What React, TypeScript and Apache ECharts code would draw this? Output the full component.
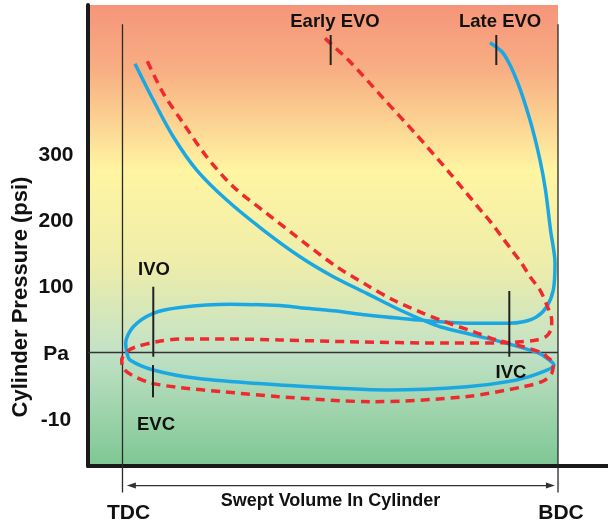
import React, { useEffect, useRef } from 'react';
import * as echarts from 'echarts';

// Axis extents (x: % of swept volume, TDC = 0, BDC = 100; y: schematic pressure units)
const X_MIN = -7.92;
const X_MAX = 100;
const X_EDGE = 111.6;
const Y_MIN = -171;
const Y_MAX = 523;

const yTickValues = [-100, 0, 100, 200, 300];
const yTickLabels = ['-10', 'Pa', '100', '200', '300'];
const xTickValues = [0, 100];
const xTickLabels = ['TDC', 'BDC'];
const xAxisTitle = 'Swept Volume In Cylinder';
const yAxisTitle = 'Cylinder Pressure (psi)';

// Blue (late EVO) loop: blowdown -> exhaust stroke -> intake stroke -> compression
const blueX = [84.39, 87.44, 90.52, 93.57, 95.87, 97.13, 98.28, 99.31, 98.92, 97.41, 95.11, 92.03, 88.22, 80.55, 72.9, 63.72, 56.07, 48.4, 40.76, 36.17, 24.68, 13.2, 7.07, 2.48, 0.73, 1.03, 1.72, 7.07, 17.04, 36.17, 60.9, 79.04, 90.52, 96.62, 99.08, 97.7, 95.18, 88.22, 80.55, 72.9, 69.85, 63.72, 56.07, 48.4, 40.76, 32.33, 23.93, 17.04, 11.66, 7.07, 2.87];
const blueY = [466.2, 450.2, 410.0, 349.8, 289.6, 244.5, 184.3, 134.2, 93.9, 68.7, 53.7, 46.2, 43.8, 43.8, 46.2, 51.3, 56.3, 62.8, 67.3, 70.6, 72.4, 67.6, 58.9, 38.7, 13.7, -0.9, -11.4, -26.5, -39.0, -49.1, -56.6, -51.6, -41.4, -29.1, -19.0, -9.9, 0.0, 13.7, 26.2, 38.7, 46.2, 63.8, 88.9, 113.9, 144.0, 184.2, 229.4, 274.5, 324.7, 379.9, 434.7];

// Red dashed (early EVO) loop
const redX = [46.5, 52.24, 59.89, 67.55, 75.2, 82.85, 84.78, 87.07, 89.37, 91.66, 93.57, 95.87, 97.41, 98.55, 98.55, 97.41, 95.11, 91.27, 88.22, 74.44, 52.01, 36.17, 24.68, 13.2, 7.85, 3.26, 1.33, -0.18, 0.18, 2.11, 6.31, 13.2, 23.15, 35.41, 57.34, 78.71, 92.08, 96.62, 98.55, 98.92, 97.41, 96.62, 92.03, 85.92, 80.55, 72.9, 69.07, 62.18, 56.07, 49.18, 42.3, 33.11, 25.44, 19.33, 13.96, 9.37, 5.56];
const redY = [472.8, 437.6, 382.5, 327.3, 269.6, 209.4, 194.3, 174.2, 154.1, 134.1, 114.0, 93.9, 71.4, 48.8, 38.7, 24.7, 18.7, 16.1, 14.6, 14.0, 16.1, 18.7, 20.2, 20.2, 16.1, 8.6, 2.6, -11.4, -23.9, -34.0, -45.6, -53.1, -59.2, -66.4, -74.2, -66.7, -51.6, -43.1, -31.5, -16.4, -6.5, -1.4, 8.6, 18.7, 31.2, 48.8, 58.9, 78.9, 101.5, 129.0, 162.4, 209.4, 249.4, 294.6, 344.9, 390.0, 440.2];

// Valve event markers
const eventNames = ['Early EVO', 'Late EVO', 'IVO', 'EVC', 'IVC'];
const eventX = [47.8, 85.83, 7.07, 7.0, 88.82];
const eventYTop = [477.8, 477.8, 98.9, -19.0, 92.4];
const eventYBottom = [432.6, 432.6, -6.5, -67.6, -6.5];
const eventLabelX = [48.8, 86.7, 7.23, 7.7, 89.2];
const eventLabelY = [500.4, 500.4, 126.6, -106.3, -28.0];

// Guides
const guideX = [0, 100];
const GUIDE_TOP = 494;
const GUIDE_BOTTOM = -211;
const PA_VALUE = 0;
const ARROW_Y = -200.4;
const ARROW_X0 = 1.0;
const ARROW_X1 = 99.3;
const X_TITLE_X = 47.76;
const X_TITLE_Y = -222.2;

const FONT = '"Liberation Sans", Arial, Helvetica, sans-serif';

export default function App() {
  const ref = useRef<HTMLDivElement>(null);

  useEffect(() => {
    if (!ref.current) return;
    const chart = echarts.init(ref.current, null, { renderer: 'svg' });

    const guideSeries = {
      type: 'custom',
      coordinateSystem: 'cartesian2d',
      clip: false,
      silent: true,
      z: 1,
      data: [[0, 0]],
      renderItem: (params: any, api: any) => {
        const children: any[] = [];
        guideX.forEach((gx) => {
          const a = api.coord([gx, GUIDE_TOP]);
          const b = api.coord([gx, GUIDE_BOTTOM]);
          children.push({ type: 'line', shape: { x1: a[0], y1: a[1], x2: b[0], y2: b[1] }, style: { stroke: '#2a2a2a', lineWidth: 1.3 } });
        });
        const p0 = api.coord([X_MIN, PA_VALUE]);
        const p1 = api.coord([X_MAX, PA_VALUE]);
        children.push({ type: 'line', shape: { x1: p0[0], y1: p0[1], x2: p1[0], y2: p1[1] }, style: { stroke: '#333', lineWidth: 1.5 } });
        const e0 = api.coord([X_MAX, Y_MIN]);
        const e1 = api.coord([X_EDGE, Y_MIN]);
        children.push({ type: 'line', shape: { x1: e0[0], y1: e0[1], x2: e1[0], y2: e1[1] }, style: { stroke: '#1a1a1a', lineWidth: 4 } });
        const a0 = api.coord([ARROW_X0, ARROW_Y]);
        const a1 = api.coord([ARROW_X1, ARROW_Y]);
        children.push({ type: 'line', shape: { x1: a0[0] + 4, y1: a0[1], x2: a1[0] - 4, y2: a1[1] }, style: { stroke: '#333', lineWidth: 1.3 } });
        children.push({ type: 'polygon', shape: { points: [[a0[0], a0[1]], [a0[0] + 9, a0[1] - 3], [a0[0] + 9, a0[1] + 3]] }, style: { fill: '#333' } });
        children.push({ type: 'polygon', shape: { points: [[a1[0], a1[1]], [a1[0] - 9, a1[1] - 3], [a1[0] - 9, a1[1] + 3]] }, style: { fill: '#333' } });
        const t = api.coord([X_TITLE_X, X_TITLE_Y]);
        children.push({
          type: 'text',
          x: t[0],
          y: t[1],
          style: { text: xAxisTitle, fill: '#111', fontSize: 18, fontWeight: 'bold', fontFamily: FONT, align: 'center', verticalAlign: 'middle' },
        });
        return { type: 'group', children };
      },
    };

    const eventSeries = {
      type: 'custom',
      coordinateSystem: 'cartesian2d',
      clip: false,
      silent: true,
      z: 5,
      data: eventNames.map((_, i) => [eventX[i], eventYTop[i], eventYBottom[i], eventLabelX[i], eventLabelY[i]]),
      renderItem: (params: any, api: any) => {
        const i = params.dataIndex;
        const p1 = api.coord([api.value(0), api.value(1)]);
        const p2 = api.coord([api.value(0), api.value(2)]);
        const pl = api.coord([api.value(3), api.value(4)]);
        return {
          type: 'group',
          children: [
            { type: 'line', shape: { x1: p1[0], y1: p1[1], x2: p2[0], y2: p2[1] }, style: { stroke: '#222', lineWidth: 2 } },
            {
              type: 'text',
              x: pl[0],
              y: pl[1],
              style: { text: eventNames[i], fill: '#111', fontSize: 18.5, fontWeight: 'bold', fontFamily: FONT, align: 'center', verticalAlign: 'middle' },
            },
          ],
        };
      },
    };

    const option: any = {
      animation: false,
      grid: {
        left: 88,
        right: 50,
        top: 5,
        bottom: 58,
        show: true,
        borderWidth: 0,
        outerBoundsMode: 'none',
        backgroundColor: new echarts.graphic.LinearGradient(0, 0, 0, 1, [
          { offset: 0, color: '#F5957A' },
          { offset: 0.14, color: '#F8AE82' },
          { offset: 0.36, color: '#FFF5A2' },
          { offset: 0.56, color: '#EEEDAA' },
          { offset: 0.75, color: '#C3E2C6' },
          { offset: 1, color: '#7EC794' },
        ]),
      },
      xAxis: {
        type: 'value',
        min: X_MIN,
        max: X_MAX,
        splitLine: { show: false },
        axisTick: { show: false },
        axisLine: { show: true, onZero: false, lineStyle: { color: '#1a1a1a', width: 4 } },
        axisLabel: {
          customValues: xTickValues,
          margin: 35,
          formatter: (v: number) => {
            const lbl = xTickLabels[xTickValues.indexOf(v)];
            return v === 0 ? '{t|' + lbl + '}' : '{b|' + lbl + '}';
          },
          rich: {
            t: { fontSize: 21, fontWeight: 'bold', fontFamily: FONT, color: '#111', padding: [0, 0, 0, 12] },
            b: { fontSize: 21, fontWeight: 'bold', fontFamily: FONT, color: '#111', padding: [0, 0, 0, 6] },
          },
        },
      },
      yAxis: {
        type: 'value',
        min: Y_MIN,
        max: Y_MAX,
        splitLine: { show: false },
        axisTick: { show: false },
        axisLine: { show: true, onZero: false, lineStyle: { color: '#1a1a1a', width: 4 } },
        axisLabel: {
          customValues: yTickValues,
          margin: 32,
          align: 'center',
          verticalAlign: 'middle',
          fontSize: 21,
          fontWeight: 'bold',
          fontFamily: FONT,
          color: '#111',
          formatter: (v: number) => yTickLabels[yTickValues.indexOf(v)],
        },
      },
      graphic: [
        {
          type: 'text',
          x: 19,
          y: 297,
          rotation: Math.PI / 2,
          style: {
            text: yAxisTitle,
            fill: '#111',
            fontSize: 22,
            fontWeight: 'bold',
            fontFamily: FONT,
            align: 'center',
            verticalAlign: 'middle',
          },
        },
      ],
      series: [
        guideSeries,
        {
          name: 'Late EVO',
          type: 'line',
          z: 3,
          data: blueX.map((x, i) => [x, blueY[i]]),
          showSymbol: false,
          symbol: 'none',
          smooth: 0.3,
          lineStyle: { color: '#1BA8E2', width: 3.5 },
          silent: true,
        },
        {
          name: 'Early EVO',
          type: 'line',
          z: 4,
          data: redX.map((x, i) => [x, redY[i]]),
          showSymbol: false,
          symbol: 'none',
          smooth: 0.3,
          lineStyle: { color: '#EE2A2E', width: 3.5, type: [9, 6] },
          silent: true,
        },
        eventSeries,
      ],
    };

    chart.setOption(option);
    return () => chart.dispose();
  }, []);

  return <div ref={ref} style={{ position: 'fixed', left: 0, top: 0, width: 608, height: 524 }} />;
}
